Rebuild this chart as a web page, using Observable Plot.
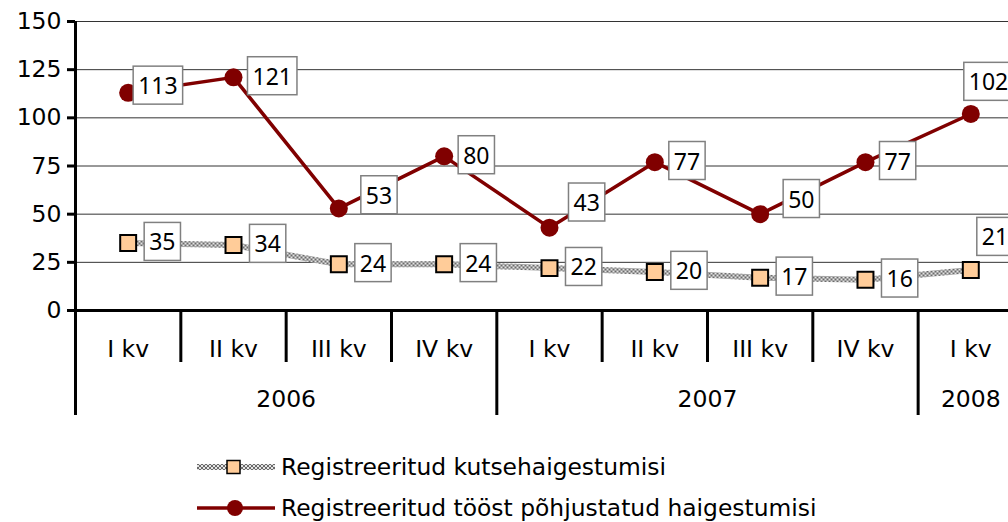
<!DOCTYPE html>
<html>
<head>
<meta charset="utf-8">
<script src="https://cdn.jsdelivr.net/npm/d3@7"></script>
<script src="https://cdn.jsdelivr.net/npm/@observablehq/plot@0.6"></script>
<style>
  html, body { margin: 0; padding: 0; background: #fff; overflow: hidden; width: 1008px; height: 522px; }
  #legend { padding-top: 6px; font-family: "DejaVu Sans", Verdana, sans-serif; font-size: 23.4px; color: #000; }
  #legend .row { display: flex; align-items: center; height: 41px; margin-left: 197px; white-space: nowrap; }
  #legend svg { display: block; flex: none; }
</style>
</head>
<body>
<div id="chart"></div>
<div id="legend"></div>
<script>
// ---- data ----
const quarters = ["I kv", "II kv", "III kv", "IV kv", "I kv", "II kv", "III kv", "IV kv", "I kv"];
const years = [2006, 2006, 2006, 2006, 2007, 2007, 2007, 2007, 2008];
const kutsehaigestumised = [35, 34, 24, 24, 22, 20, 17, 16, 21];
const toostHaigestumised = [113, 121, 53, 80, 43, 77, 50, 77, 102];
const yTicks = [0, 25, 50, 75, 100, 125, 150];
const seriesNames = ["Registreeritud kutsehaigestumisi", "Registreeritud tööst põhjustatud haigestumisi"];

// ---- layout (label placement, in pixels) ----
const W = 1008, H = 440;
const plotTop = 21, plotBottom = 310, plotLeft = 75, bandW = 105.33;
const frameH = plotBottom - plotTop;
const font = "DejaVu Sans, Verdana, sans-serif";
const labelFont = "Noto Sans, Tahoma, sans-serif";
const darkRed = "#800000";
const peach = "#FFCC99";
const hatchDark = "#6a6a6a", hatchLight = "#e4e4e4";
const labelShift1 = [[21, 0], [21, 0], [21, 0], [21, 0], [21, 0], [21, 0], [21, 0], [21, 0], [11, -32]];
const labelShift2 = [[10, -6], [19, 0], [27, -12], [19, 0], [24, -24], [19, 0], [28, -14], [19, 0], [-2, -31]];

const idx = quarters.map((_, i) => i);
const s1 = idx.map(i => ({i, v: kutsehaigestumised[i]}));
const s2 = idx.map(i => ({i, v: toostHaigestumised[i]}));

// boundaries between quarters: long where a new year starts
const boundaries = idx.map(i => ({b: i - 0.5, long: i === 0 || years[i] !== years[i - 1]}));
const yearGroups = Array.from(d3.group(idx, i => years[i]), ([year, is]) => ({year: String(year), c: d3.mean(is)}));

const boxedLabels = (series, shifts) => series.map((d, k) =>
  Plot.text([d], {x: "i", y: "v", text: d => String(d.v), textAnchor: "start", dx: shifts[k][0], dy: shifts[k][1],
    fontSize: 23, fontFamily: labelFont, fill: "#000", ariaDescription: "boxed"}));

const chart = Plot.plot({
  width: W,
  height: H,
  marginTop: plotTop,
  marginBottom: H - plotBottom,
  marginLeft: plotLeft,
  marginRight: 0,
  style: {fontFamily: font, background: "#fff", overflow: "hidden"},
  x: {type: "linear", domain: [-0.5, idx.length - 0.5], range: [plotLeft, plotLeft + bandW * idx.length], axis: null},
  y: {domain: [0, 150], range: [plotBottom, plotTop], axis: null},
  marks: [
    // grid
    Plot.ruleY(yTicks.filter(v => v > 0), {stroke: "#333", strokeWidth: 1}),
    // y axis ticks & labels
    Plot.ruleY(yTicks, {y: d => d, x1: -0.5, x2: -0.5, insetLeft: -8, stroke: "#000", strokeWidth: 3}),
    Plot.text(yTicks, {y: d => d, frameAnchor: "left", dx: -14, textAnchor: "end", fontSize: 23.5, fill: "#000", text: d => String(d)}),
    // series 1 line (hatched)
    Plot.line(s1, {x: "i", y: "v", stroke: "url(#checker)", strokeWidth: 6}),
    // series 2 line
    Plot.line(s2, {x: "i", y: "v", stroke: darkRed, strokeWidth: 3.5}),
    // markers
    Plot.dot(s1, {x: "i", y: "v", symbol: "square", r: 9, fill: peach, stroke: "#000", strokeWidth: 2}),
    Plot.dot(s2, {x: "i", y: "v", r: 9, fill: darkRed, stroke: "none"}),
    // zero line & y axis line
    Plot.ruleY([0], {stroke: "#000", strokeWidth: 3, insetLeft: -8}),
    Plot.ruleX([-0.5], {stroke: "#000", strokeWidth: 3, insetBottom: -105}),
    // category separators
    Plot.ruleX(boundaries.filter(d => !d.long), {x: "b", stroke: "#000", strokeWidth: 3, insetTop: frameH, insetBottom: -52}),
    Plot.ruleX(boundaries.filter(d => d.long && d.b > -0.5), {x: "b", stroke: "#000", strokeWidth: 3, insetTop: frameH, insetBottom: -105}),
    // category labels
    Plot.text(idx, {x: d => d, frameAnchor: "bottom", dy: 46, text: d => quarters[d], fontSize: 23.5, fill: "#000"}),
    Plot.text(yearGroups, {x: "c", frameAnchor: "bottom", dy: 96, text: "year", fontSize: 23.5, fill: "#000"}),
    // data labels (boxed)
    ...boxedLabels(s1, labelShift1),
    ...boxedLabels(s2, labelShift2)
  ]
});

// hatch pattern for the gray line
const defs = d3.select(chart).insert("defs", ":first-child");
const pat = defs.append("pattern").attr("id", "checker").attr("patternUnits", "userSpaceOnUse").attr("width", 4).attr("height", 4);
pat.append("rect").attr("width", 4).attr("height", 4).attr("fill", hatchLight);
pat.append("rect").attr("width", 2).attr("height", 2).attr("fill", hatchDark);
pat.append("rect").attr("x", 2).attr("y", 2).attr("width", 2).attr("height", 2).attr("fill", hatchDark);

document.getElementById("chart").append(chart);

// boxes behind data labels
d3.select(chart).selectAll('g[aria-description="boxed"] text').each(function () {
  const b = this.getBBox();
  const r = document.createElementNS("http://www.w3.org/2000/svg", "rect");
  const h = 38;
  r.setAttribute("x", b.x - 5);
  r.setAttribute("y", b.y + b.height / 2 - h / 2);
  r.setAttribute("width", b.width + 10);
  r.setAttribute("height", h);
  r.setAttribute("fill", "#fff");
  r.setAttribute("stroke", "#808080");
  r.setAttribute("stroke-width", 1.5);
  const t = this.getAttribute("transform");
  if (t) r.setAttribute("transform", t);
  this.parentNode.insertBefore(r, this);
});

// legend
const legend = document.getElementById("legend");
const swatches = [
  `<svg width="84" height="24"><defs><pattern id="checkerL" patternUnits="userSpaceOnUse" width="4" height="4"><rect width="4" height="4" fill="${hatchLight}"/><rect width="2" height="2" fill="${hatchDark}"/><rect x="2" y="2" width="2" height="2" fill="${hatchDark}"/></pattern></defs><line x1="0" x2="78" y1="12" y2="12" stroke="url(#checkerL)" stroke-width="6"/><rect x="30" y="5.5" width="13" height="13" fill="${peach}" stroke="#000" stroke-width="1.5"/></svg>`,
  `<svg width="84" height="24"><line x1="0" x2="78" y1="12" y2="12" stroke="${darkRed}" stroke-width="3.5"/><circle cx="38" cy="12" r="8" fill="${darkRed}"/></svg>`
];
seriesNames.forEach((name, k) => {
  const row = document.createElement("div");
  row.className = "row";
  row.innerHTML = swatches[k] + `<span>${name}</span>`;
  legend.append(row);
});
</script>
</body>
</html>
